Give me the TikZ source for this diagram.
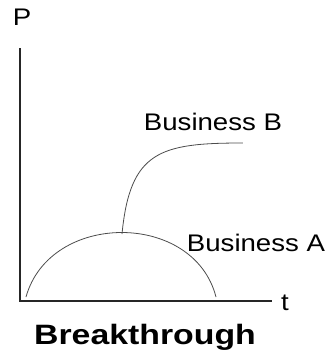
\documentclass[tikz,border=0pt]{standalone}
\usepackage{fontspec}
\setmainfont{Liberation Sans}
\tikzset{
    lbl/.style={inner sep=0pt, xscale=1.15, font=\fontsize{24}{26}\selectfont},
    curve/.style={line width=0.8pt, gray!60!black},
}
\begin{document}
\begin{tikzpicture}[x=1pt,y=1pt]
        \useasboundingbox (-20,-59) rectangle (309,301);
        \coordinate (O) at (0,0);
        \draw[line width=2.6pt, black!85] (0,253) -- (O) -- (252,0);
        \node[lbl] (P) at (2,284) {P};
        \node[lbl] (t) at (265,-2) {t};

        % business A, then B branching off its top
        \coordinate (A0) at (6,4);
        \coordinate (A1) at (196,4);
        \coordinate (top) at (102,67);
        \coordinate (B1) at (223,158);
        \draw[curve] (A0) .. controls (30,90) and (174,90) .. (A1);
        \draw[curve] (top) .. controls (110,150) and (140,158) .. (B1);

        \node[lbl] (busA) at (236,58) {Business A};
        \node[lbl] (busB) at (193,179) {Business B};
        \node[lbl, xscale=1.05, font=\fontsize{28}{30}\selectfont\bfseries] (brk) at (125,-36) {Breakthrough};
\end{tikzpicture}
\end{document}
